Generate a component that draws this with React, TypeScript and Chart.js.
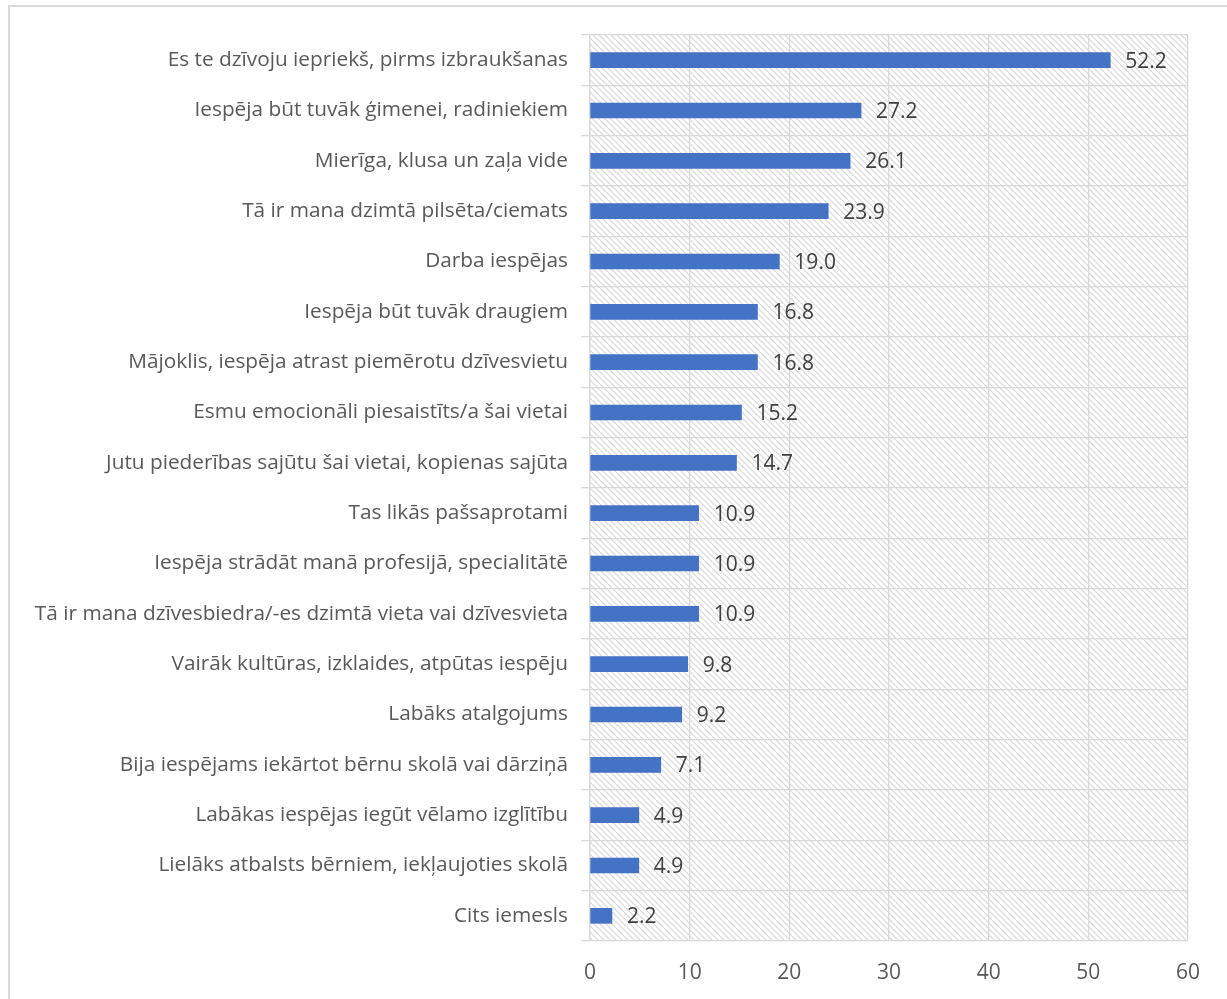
import React, { useEffect, useRef } from "react";
import { Chart, registerables } from "chart.js";

Chart.register(...registerables);

const categories = [
  "Es te dzīvoju iepriekš, pirms izbraukšanas",
  "Iespēja būt tuvāk ģimenei, radiniekiem",
  "Mierīga, klusa un zaļa vide",
  "Tā ir mana dzimtā pilsēta/ciemats",
  "Darba iespējas",
  "Iespēja būt tuvāk draugiem",
  "Mājoklis, iespēja atrast piemērotu dzīvesvietu",
  "Esmu emocionāli piesaistīts/a šai vietai",
  "Jutu piederības sajūtu šai vietai, kopienas sajūta",
  "Tas likās pašsaprotami",
  "Iespēja strādāt manā profesijā, specialitātē",
  "Tā ir mana dzīvesbiedra/-es dzimtā vieta vai dzīvesvieta",
  "Vairāk kultūras, izklaides, atpūtas iespēju",
  "Labāks atalgojums",
  "Bija iespējams iekārtot bērnu skolā vai dārziņā",
  "Labākas iespējas iegūt vēlamo izglītību",
  "Lielāks atbalsts bērniem, iekļaujoties skolā",
  "Cits iemesls",
];

const values = [52.2, 27.2, 26.1, 23.9, 19.0, 16.8, 16.8, 15.2, 14.7, 10.9, 10.9, 10.9, 9.8, 9.2, 7.1, 4.9, 4.9, 2.2];

const xTicks = [0, 10, 20, 30, 40, 50, 60];

const FONT = "'Open Sans', Lato, sans-serif";

export default function App() {
  const ref = useRef<HTMLCanvasElement | null>(null);

  useEffect(() => {
    const canvas = ref.current!;
    const pc = document.createElement("canvas");
    pc.width = 6;
    pc.height = 6;
    const pctx = pc.getContext("2d")!;
    pctx.fillStyle = "#ffffff";
    pctx.fillRect(0, 0, 6, 6);
    pctx.strokeStyle = "#d6d6d6";
    pctx.lineWidth = 1.2;
    pctx.beginPath();
    pctx.moveTo(-1, -1);
    pctx.lineTo(7, 7);
    pctx.moveTo(-1, 5);
    pctx.lineTo(1, 7);
    pctx.moveTo(5, -1);
    pctx.lineTo(7, 1);
    pctx.stroke();

    const bgPlugin = {
      id: "hatchBg",
      beforeDraw(chart: any) {
        const { ctx, chartArea } = chart;
        const pat = ctx.createPattern(pc, "repeat");
        ctx.save();
        ctx.fillStyle = pat;
        ctx.fillRect(chartArea.left, chartArea.top, chartArea.right - chartArea.left, chartArea.bottom - chartArea.top);
        ctx.restore();
      },
    };

    const labelPlugin = {
      id: "valueLabels",
      afterDatasetsDraw(chart: any) {
        const { ctx } = chart;
        const meta = chart.getDatasetMeta(0);
        ctx.save();
        ctx.font = `21px ${FONT}`;
        ctx.fillStyle = "#404040";
        ctx.textAlign = "left";
        ctx.textBaseline = "middle";
        meta.data.forEach((bar: any, i: number) => {
          ctx.fillText(values[i].toFixed(1), bar.x + 15, bar.y + 1.5);
        });
        ctx.restore();
      },
    };

    const chart = new Chart(canvas, {
      type: "bar",
      data: {
        labels: categories,
        datasets: [
          {
            data: values,
            backgroundColor: "#4472C4",
            borderWidth: 0,
            barThickness: 15,
          },
        ],
      },
      options: {
        indexAxis: "y",
        animation: false,
        responsive: false,
        maintainAspectRatio: false,
        layout: { padding: { top: 35, right: 39, bottom: 0, left: 0 } },
        plugins: {
          legend: { display: false },
          tooltip: { enabled: false },
        },
        scales: {
          x: {
            min: 0,
            max: 60,
            afterBuildTicks(scale: any) {
              scale.ticks = xTicks.map((v) => ({ value: v }));
            },
            afterFit(scale: any) {
              scale.height = 58;
            },
            grid: { color: "#d9d9d9", lineWidth: 1.3, drawTicks: false },
            border: { display: false },
            ticks: {
              padding: 19,
              color: "#595959",
              font: { family: FONT, size: 21 },
            },
          },
          y: {
            afterFit(scale: any) {
              scale.width = 590;
            },
            grid: { color: "#d9d9d9", lineWidth: 1.3, tickLength: 9, offset: true },
            border: { display: true, color: "#d9d9d9", width: 1.3 },
            ticks: {
              padding: 13,
              color: "#595959",
              autoSkip: false,
              font: { family: FONT, size: 20.8 },
            },
          },
        },
      },
      plugins: [bgPlugin, labelPlugin],
    });
    return () => chart.destroy();
  }, []);

  return (
    <div style={{ position: "absolute", left: 0, top: 0, width: 1227, height: 999, overflow: "hidden", background: "#fff" }}>
      <div
        style={{
          position: "absolute",
          left: 8,
          top: 5,
          width: 1300,
          height: 1100,
          borderLeft: "2px solid #d9d9d9",
          borderTop: "2px solid #d9d9d9",
        }}
      />
      <canvas ref={ref} width={1227} height={999} style={{ position: "absolute", left: 0, top: 0 }} />
    </div>
  );
}
